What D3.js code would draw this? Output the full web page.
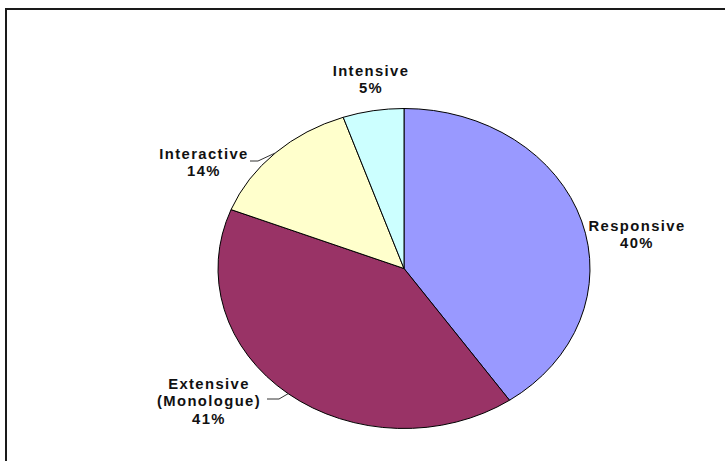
<!DOCTYPE html>
<html>
<head>
<meta charset="utf-8">
<script src="https://cdn.jsdelivr.net/npm/d3@7"></script>
<style>
  body { margin: 0; background: #fff; }
  text { font-family: "Liberation Sans", Arial, sans-serif; font-weight: bold; font-size: 14.8px; letter-spacing: 1.4px; fill: #111; }
</style>
</head>
<body>
<svg id="chart"></svg>
<script>
// slice data, clockwise from 12 o'clock
var categories = ['Responsive', 'Extensive', 'Interactive', 'Intensive'];
var values = [40.4, 40.6, 13.7, 5.3];
var labelLines = [
  ['Responsive', '40%'],
  ['Extensive', '(Monologue)', '41%'],
  ['Interactive', '14%'],
  ['Intensive', '5%']
];

var width = 725, height = 461;
var cx = 404, cy = 268.5, rx = 186, ry = 160;

var colors = ['#9999FF', '#993366', '#FFFFCC', '#CCFFFF'];
var color = d3.scaleOrdinal().domain(categories).range(colors);

// where each label block sits, relative to pie centre (x = centre of text, y = first baseline)
var labelPos = {
  'Responsive': [233, -38],
  'Extensive': [-195, 120],
  'Interactive': [-200, -110],
  'Intensive': [-33, -193]
};
// leader lines: [start x, elbow x, y], relative to centre
var leaders = {
  'Interactive': [-154, -146, -107.5],
  'Extensive': [-137, -125, 130.5]
};

var svg = d3.select('#chart')
  .attr('width', width)
  .attr('height', height);

// chart frame (runs off the right / bottom edge)
svg.append('rect')
  .attr('x', 6).attr('y', 9)
  .attr('width', 740).attr('height', 470)
  .style('fill', 'none')
  .style('stroke', '#1a1a1a')
  .style('stroke-width', 2);

var pie = d3.pie().sort(null).value(function(d) { return d; });
var arcs = pie(values);

var arc = d3.arc().innerRadius(0).outerRadius(ry);

var pieG = svg.append('g')
  .attr('transform', 'translate(' + cx + ',' + cy + ')scale(' + (rx / ry) + ',1)');

pieG.selectAll('path')
  .data(arcs)
  .enter()
  .append('path')
  .attr('d', arc)
  .style('fill', function(d, i) { return color(categories[i]); })
  .style('stroke', '#000')
  .style('stroke-width', 1)
  .attr('vector-effect', 'non-scaling-stroke');

// point on the ellipse edge at the slice's middle angle
function edgePoint(d) {
  var a = (d.startAngle + d.endAngle) / 2;
  return [cx + rx * Math.sin(a), cy - ry * Math.cos(a)];
}

var lead = svg.append('g');
arcs.forEach(function(d, i) {
  var name = categories[i];
  var L = leaders[name];
  if (!L) return;
  var p = edgePoint(d);
  lead.append('polyline')
    .attr('points', [
      [cx + L[0], cy + L[2]],
      [cx + L[1], cy + L[2]],
      p
    ].map(function(q) { return q.join(','); }).join(' '))
    .style('fill', 'none')
    .style('stroke', '#333')
    .style('stroke-width', 1);
});

var labels = svg.append('g');
arcs.forEach(function(d, i) {
  var name = categories[i];
  var t = labels.append('text')
    .attr('text-anchor', 'middle')
    .attr('x', cx + labelPos[name][0])
    .attr('y', cy + labelPos[name][1]);
  labelLines[i].forEach(function(line, j) {
    t.append('tspan')
      .attr('x', cx + labelPos[name][0])
      .attr('dy', j == 0 ? 0 : 17.5)
      .text(line);
  });
});
</script>
</body>
</html>
